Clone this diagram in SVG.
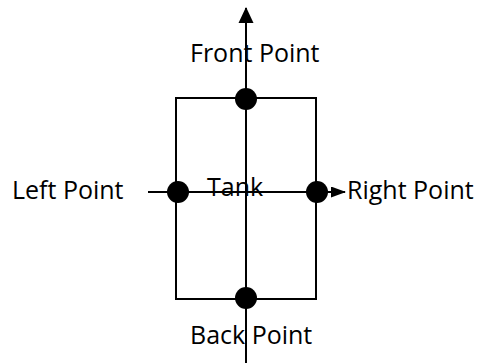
<svg xmlns="http://www.w3.org/2000/svg" width="480" height="363" viewBox="0 0 480 363">
<defs>
<style>
.t{font-family:"Open Sans","Liberation Sans",sans-serif;font-size:25px;fill:#000}
.ln{stroke:#000;stroke-width:2;fill:none}
.dot{fill:#000}
</style>
<marker id="ah" markerWidth="15" markerHeight="11" refX="14" refY="5.5" orient="auto" markerUnits="userSpaceOnUse">
<path d="M0,0 L15,5.5 L0,11 Z" fill="#000"/>
</marker>
<marker id="ahv" markerWidth="16" markerHeight="16" refX="15" refY="8" orient="auto" markerUnits="userSpaceOnUse">
<path d="M0,0.5 L16,8 L0,15.5 Z" fill="#000"/>
</marker>
</defs>
<rect width="480" height="363" fill="#fff"/>
<g id="tank">
<rect x="176" y="98" width="140" height="201" class="ln"/>
<text class="t" x="207" y="196">Tank</text>
</g>
<g id="connectors">
<line x1="246" y1="363" x2="246" y2="8" class="ln" marker-end="url(#ahv)"/>
<line x1="148" y1="192" x2="345" y2="192" class="ln" marker-end="url(#ah)"/>
</g>
<g id="front">
<circle cx="246" cy="99" r="11" class="dot"/>
<text class="t" x="190" y="62">Front Point</text>
</g>
<g id="back">
<circle cx="246" cy="298" r="11" class="dot"/>
<text class="t" x="190" y="344">Back Point</text>
</g>
<g id="left">
<circle cx="178" cy="192" r="11" class="dot"/>
<text class="t" x="12" y="199">Left Point</text>
</g>
<g id="right">
<circle cx="317" cy="192" r="11" class="dot"/>
<text class="t" x="347" y="199">Right Point</text>
</g>
</svg>
